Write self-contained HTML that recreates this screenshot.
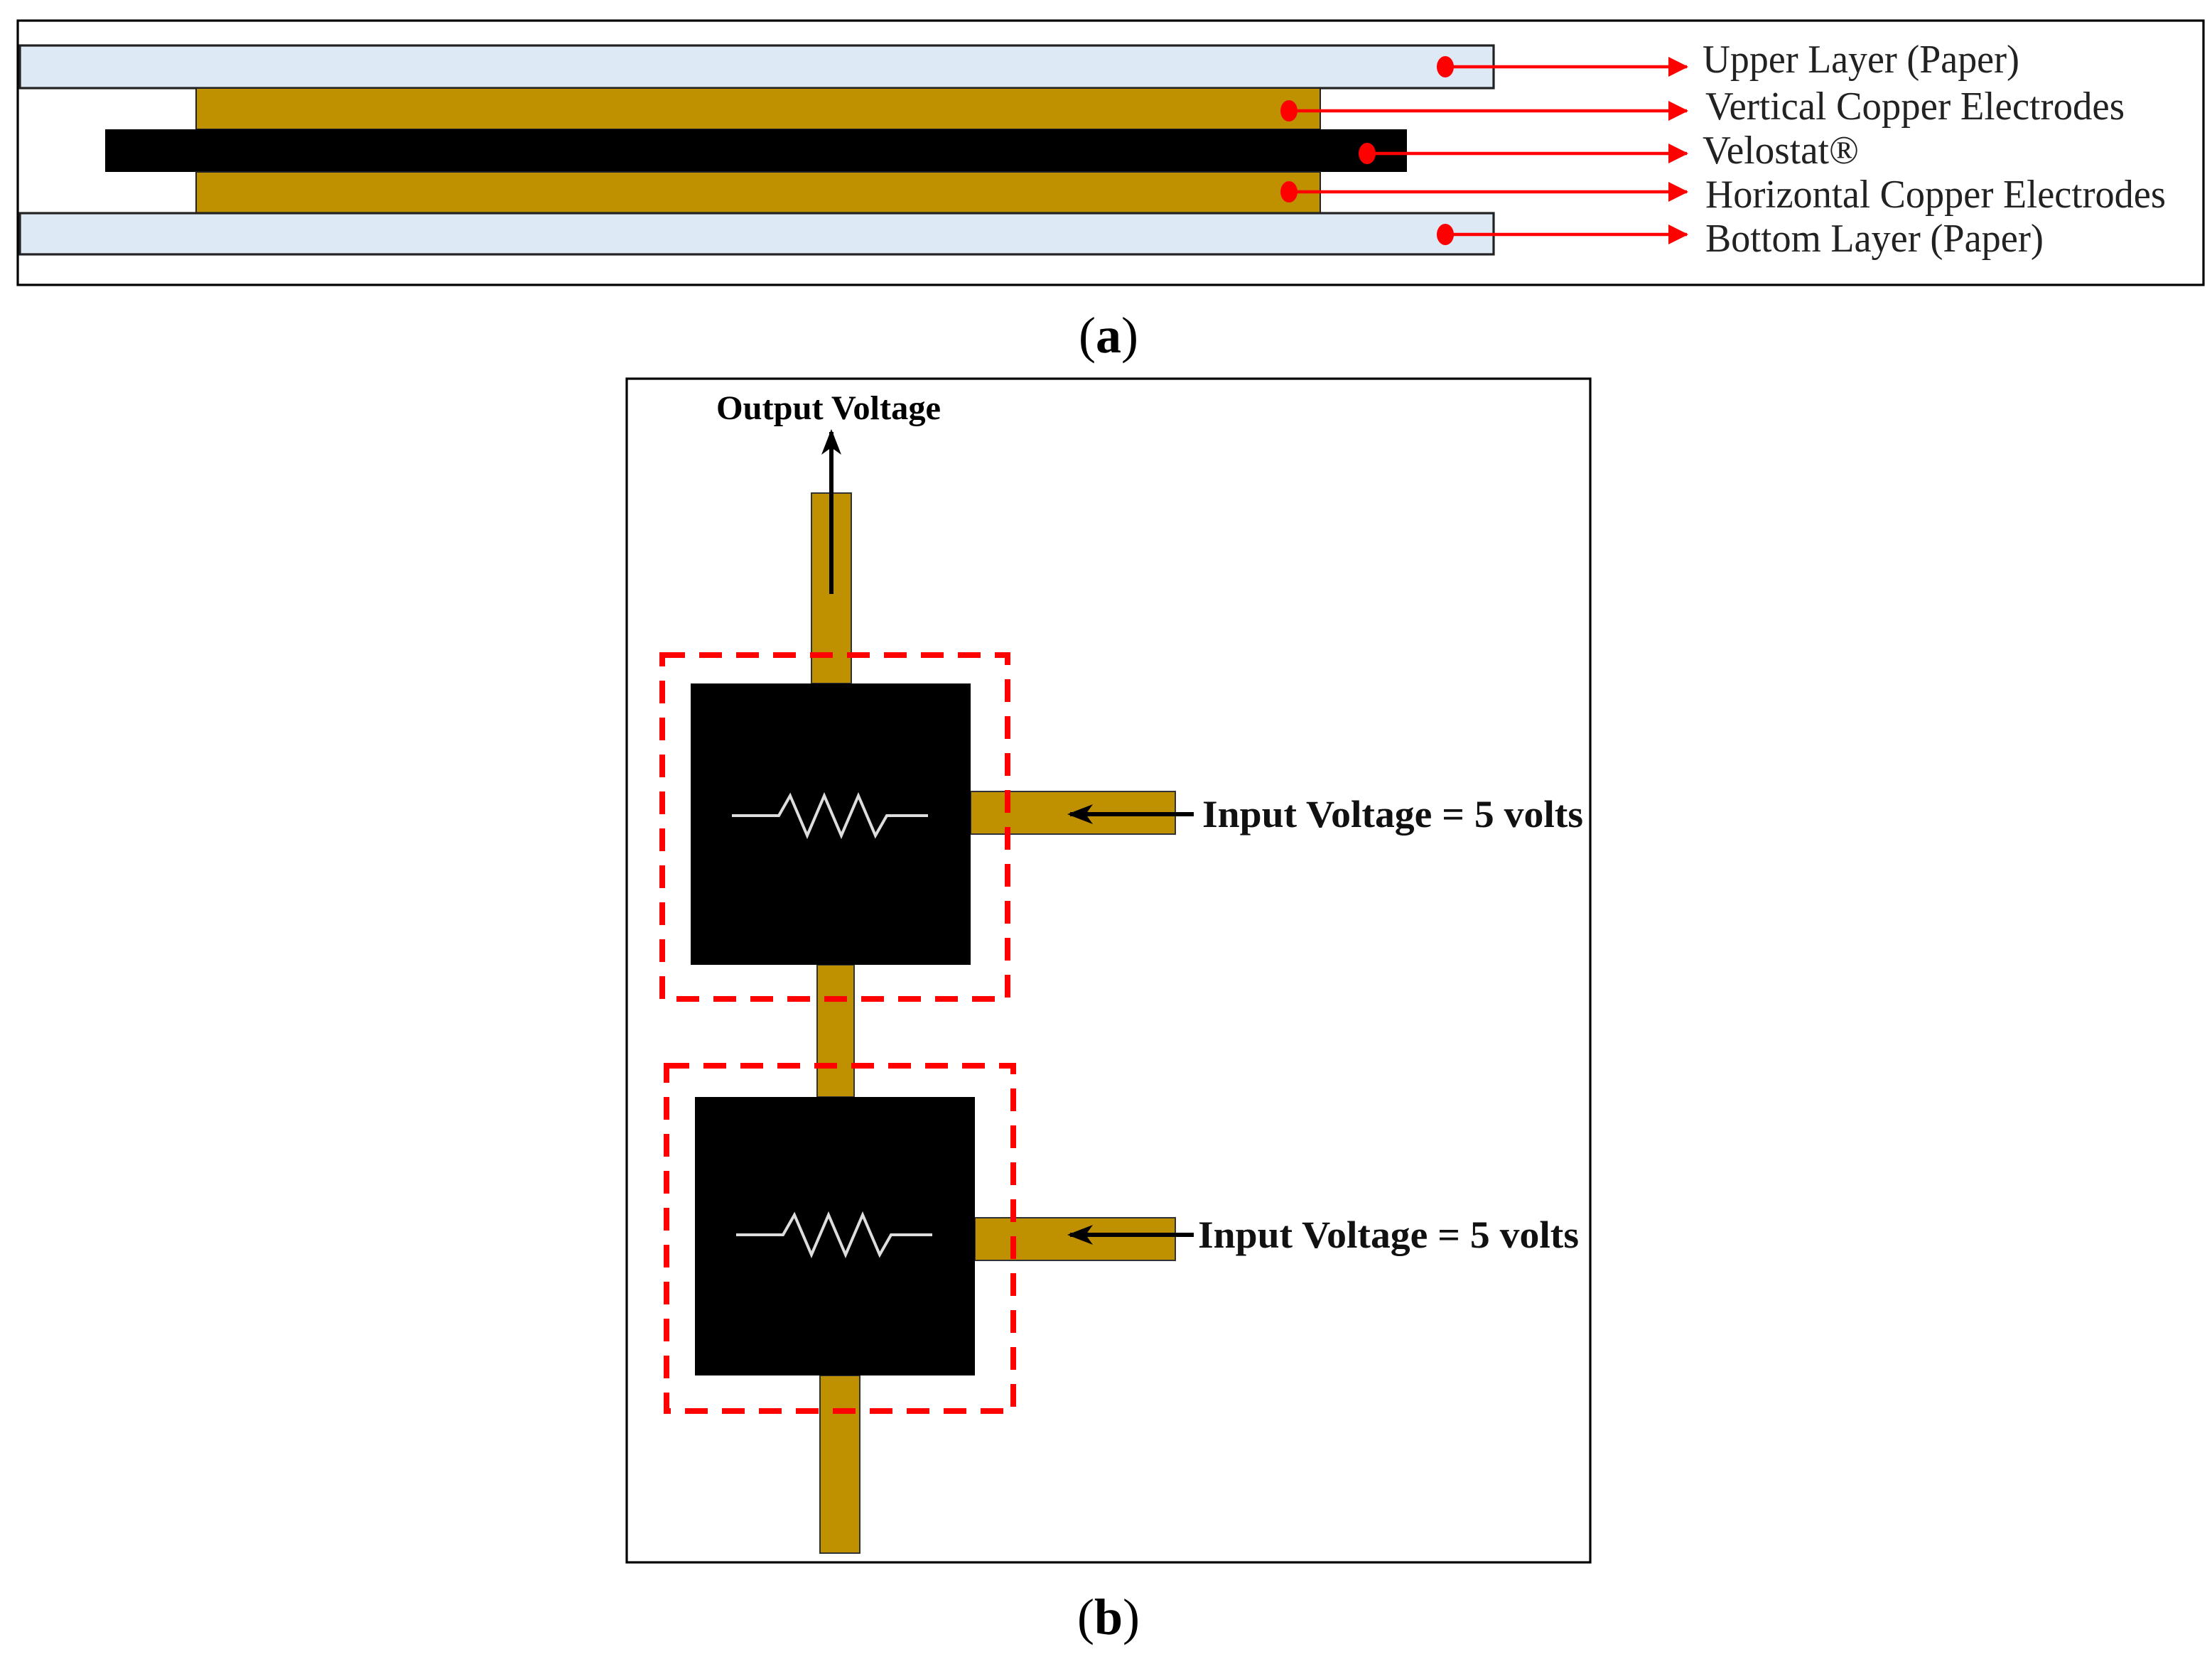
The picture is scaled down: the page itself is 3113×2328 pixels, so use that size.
<!DOCTYPE html>
<html><head><meta charset="utf-8"><style>
html,body{margin:0;padding:0;background:#fff;}
svg{display:block;}
</style></head><body>
<svg width="3113" height="2328" viewBox="0 0 1556.5 1164" xmlns="http://www.w3.org/2000/svg">
<defs>
<marker id="ra" markerWidth="14" markerHeight="14" refX="13" refY="7" orient="auto" markerUnits="userSpaceOnUse"><path d="M0,0 L14,7 L0,14 Z" fill="#f00"/></marker>
<marker id="ba" markerWidth="18" markerHeight="14" refX="16" refY="7" orient="auto" markerUnits="userSpaceOnUse"><path d="M0,0 L18,7 L0,14 L5,7 Z" fill="#000"/></marker>
</defs>
<rect width="1556.5" height="1164" fill="#fff"/>
<!-- (a) -->
<rect x="12.5" y="14.5" width="1538" height="186" fill="#fff" stroke="#000" stroke-width="1.6"/>
<rect x="14" y="32" width="1037" height="30" fill="#dde9f4" stroke="#222" stroke-width="1.6"/>
<rect x="138" y="62" width="791" height="29" fill="#bf9000" stroke="#222" stroke-width="1"/>
<rect x="74" y="91" width="916" height="30" fill="#000"/>
<rect x="138" y="121" width="791" height="29" fill="#bf9000" stroke="#222" stroke-width="1"/>
<rect x="14" y="150" width="1037" height="29" fill="#dde9f4" stroke="#222" stroke-width="1.6"/>
<g stroke="#f00" stroke-width="2.2" fill="none">
<line x1="1017" y1="47" x2="1187" y2="47" marker-end="url(#ra)"/>
<line x1="907" y1="78" x2="1187" y2="78" marker-end="url(#ra)"/>
<line x1="962" y1="108" x2="1187" y2="108" marker-end="url(#ra)"/>
<line x1="907" y1="135" x2="1187" y2="135" marker-end="url(#ra)"/>
<line x1="1017" y1="165" x2="1187" y2="165" marker-end="url(#ra)"/>
</g>
<g fill="#f00">
<ellipse cx="1017" cy="47" rx="6" ry="7.5"/>
<ellipse cx="907" cy="78" rx="6" ry="7.5"/>
<ellipse cx="962" cy="108" rx="6" ry="7.5"/>
<ellipse cx="907" cy="135" rx="6" ry="7.5"/>
<ellipse cx="1017" cy="165" rx="6" ry="7.5"/>
</g>
<g font-family="'Liberation Serif', serif" font-size="28" fill="#222">
<text x="1198" y="51" textLength="223" lengthAdjust="spacingAndGlyphs">Upper Layer (Paper)</text>
<text x="1200" y="84" textLength="295" lengthAdjust="spacingAndGlyphs">Vertical Copper Electrodes</text>
<text x="1198" y="115" textLength="110" lengthAdjust="spacingAndGlyphs">Velostat®</text>
<text x="1200" y="146" textLength="324" lengthAdjust="spacingAndGlyphs">Horizontal Copper Electrodes</text>
<text x="1200" y="177" textLength="238" lengthAdjust="spacingAndGlyphs">Bottom Layer (Paper)</text>
</g>
<text x="780" y="248" text-anchor="middle" font-family="'Liberation Serif', serif" font-size="36">(<tspan font-weight="bold">a</tspan>)</text>
<!-- (b) -->
<rect x="441" y="266.5" width="678" height="833" fill="#fff" stroke="#000" stroke-width="1.6"/>
<text x="583" y="295" text-anchor="middle" font-family="'Liberation Serif', serif" font-weight="bold" font-size="24" textLength="158" lengthAdjust="spacingAndGlyphs">Output Voltage</text>
<g fill="#bf9000" stroke="#333" stroke-width="1">
<rect x="571" y="347" width="28" height="134"/>
<rect x="575" y="679" width="26" height="93"/>
<rect x="577" y="968" width="28" height="125"/>
<rect x="683" y="557" width="144" height="30"/>
<rect x="686" y="857" width="141" height="30"/>
</g>
<rect x="486" y="481" width="197" height="198" fill="#000"/>
<rect x="489" y="772" width="197" height="196" fill="#000"/>
<g stroke="#ddd" stroke-width="2" fill="none">
<polyline points="515,574 548,574 556,560 568,588 580,560 592,588 604,560 616,588 624,574 653,574"/>
<polyline points="518,869 551,869 559,855 571,883 583,855 595,883 607,855 619,883 627,869 656,869"/>
</g>
<g stroke="#f00" stroke-width="4" stroke-dasharray="16,10" fill="none">
<rect x="466" y="461" width="243" height="242"/>
<rect x="469" y="750" width="244" height="243"/>
</g>
<g stroke="#000" stroke-width="3" fill="none">
<line x1="585" y1="418" x2="585" y2="304" marker-end="url(#ba)"/>
<line x1="840" y1="573" x2="753" y2="573" marker-end="url(#ba)"/>
<line x1="840" y1="869" x2="753" y2="869" marker-end="url(#ba)"/>
</g>
<g font-family="'Liberation Serif', serif" font-weight="bold" font-size="27" fill="#111">
<text x="846" y="582" textLength="268" lengthAdjust="spacingAndGlyphs">Input Voltage = 5 volts</text>
<text x="843" y="878" textLength="268" lengthAdjust="spacingAndGlyphs">Input Voltage = 5 volts</text>
</g>
<text x="780" y="1150" text-anchor="middle" font-family="'Liberation Serif', serif" font-size="36">(<tspan font-weight="bold">b</tspan>)</text>
</svg>
</body></html>
